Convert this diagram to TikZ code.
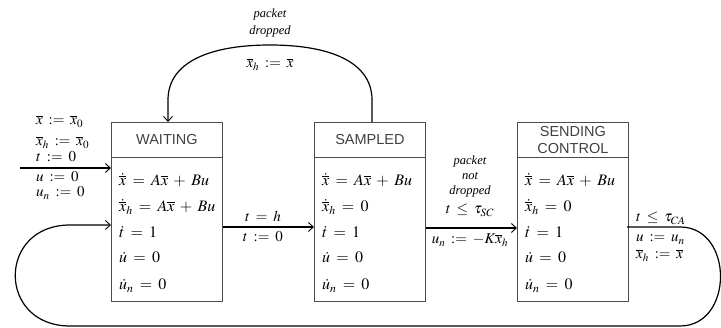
\documentclass[tikz,border=0pt]{standalone}
\usepackage{mathptmx}
\usepackage{fontspec}
\setmainfont{Liberation Serif}
\newfontfamily\titlefont{Liberation Sans}
\usetikzlibrary{arrows.meta}
\newcommand{\xb}{\overline{x}}
\newcommand{\xd}{\dot{\overline{x}}}
\newcommand{\spc}{\medmuskip=6mu\thickmuskip=7mu}
\begin{document}
\begin{tikzpicture}[x=1pt,y=-1pt,
  conn/.style={line width=1.2pt, black},
  arr/.style={conn, -{Straight Barb[length=5pt,width=9pt,line width=0.9pt]}},
  boxtitle/.style={draw=black!70, line width=0.8pt, minimum width=111pt, minimum height=35pt, inner sep=0pt,
    font=\titlefont\fontsize{14.5}{17}\selectfont, text=black!75, align=center, anchor=north west},
  boxbody/.style={draw=black!70, line width=0.8pt, minimum width=111pt, minimum height=144pt, inner sep=0pt, anchor=north west},
  eq/.style={anchor=base west, inner sep=0pt, font=\fontsize{16}{18}\selectfont\spc},
  lab/.style={anchor=base west, inner sep=0pt, font=\fontsize{15}{17}\selectfont\spc},
  clab/.style={anchor=base, inner sep=0pt, font=\fontsize{15}{17}\selectfont\spc},
  itl/.style={anchor=base, inner sep=0pt, font=\itshape\fontsize{12.5}{14}\selectfont}]
\useasboundingbox (0,0) rectangle (721,328);

% boxes
\node[boxtitle] (Wt) at (111,122) {WAITING};
\node[boxbody]  (Wb) at (111,157) {};
\node[boxtitle] (St) at (314,122) {SAMPLED};
\node[boxbody]  (Sb) at (314,157) {};
\node[boxtitle] (Ct) at (517,122) {SENDING\\CONTROL};
\node[boxbody]  (Cb) at (517,157) {};

% WAITING body
\node[eq] (w1) at (119,186) {$\xd = A\xb + Bu$};
\node[eq] (w2) at (119,212) {$\xd_h = A\xb + Bu$};
\node[eq] (w3) at (119,238) {$\dot t = 1$};
\node[eq] (w4) at (119,263) {$\dot u = 0$};
\node[eq] (w5) at (119,290) {$\dot u_n = 0$};
% SAMPLED body
\node[eq] (s1) at (322,186) {$\xd = A\xb + Bu$};
\node[eq] (s2) at (322,212) {$\xd_h = 0$};
\node[eq] (s3) at (322,238) {$\dot t = 1$};
\node[eq] (s4) at (322,263) {$\dot u = 0$};
\node[eq] (s5) at (322,290) {$\dot u_n = 0$};
% SENDING CONTROL body
\node[eq] (c1) at (525,186) {$\xd = A\xb + Bu$};
\node[eq] (c2) at (525,212) {$\xd_h = 0$};
\node[eq] (c3) at (525,238) {$\dot t = 1$};
\node[eq] (c4) at (525,263) {$\dot u = 0$};
\node[eq] (c5) at (525,290) {$\dot u_n = 0$};

% initial transition
\coordinate (i0) at (20,168);
\draw[arr] (i0) -- (i0 -| Wb.west);
\node[lab] (i1) at (36,125) {$\xb := \xb_0$};
\node[lab] (i2) at (36,146) {$\xb_h := \xb_0$};
\node[lab] (i3) at (36,162) {$t := 0$};
\node[lab] (i4) at (36,182) {$u := 0$};
\node[lab] (i5) at (36,197) {$u_n := 0$};

% WAITING -> SAMPLED
\coordinate (ws) at (230,227);
\draw[arr] (ws -| Wb.east) -- (ws -| Sb.west);
\node[clab] (ws1) at (263,222) {$t = h$};
\node[clab] (ws2) at (263,242) {$t := 0$};

% SAMPLED -> SENDING CONTROL
\coordinate (sc) at (430,228);
\draw[arr] (sc -| Sb.east) -- (sc -| Cb.west);
\node[itl] (sc1) at (470,165) {packet};
\node[itl] (sc2) at (470,180) {not};
\node[itl] (sc3) at (470,195) {dropped};
\node[clab] (sc4) at (470,214) {$t \le \tau_{SC}$};
\node[clab] (sc5) at (470,244) {$u_n := -K\xb_h$};

% SAMPLED -> WAITING (packet dropped)
\coordinate (p0) at (372,122);
\coordinate (p1) at (372,100);
\coordinate (p2) at (270,45);
\coordinate (p3) at (168,100);
\coordinate (p4) at (168,122);
\draw[arr] (p0) -- (p1) .. controls (372,62) and (330,45) .. (p2)
  .. controls (210,45) and (168,62) .. (p3) -- (p4);
\node[itl] (pd1) at (270,18) {packet};
\node[itl] (pd2) at (270,35) {dropped};
\node[clab] (pd3) at (270,68) {$\xb_h := \xb$};

% SENDING CONTROL -> WAITING (loop below)
\coordinate (r0) at (627,227);
\coordinate (r1) at (680,227);
\coordinate (r2) at (680,326);
\coordinate (l0) at (70,326);
\coordinate (l1) at (70,225);
\draw[arr] (r0) -- (r1) .. controls (734,227) and (734,326) .. (r2) -- (l0)
  .. controls (-3,326) and (-3,225) .. (l1) -- (l1 -| Wb.west);
\node[lab] (cw1) at (636,222) {$t \le \tau_{CA}$};
\node[lab] (cw2) at (636,242) {$u := u_n$};
\node[lab] (cw3) at (636,259) {$\xb_h := \xb$};
\end{tikzpicture}
\end{document}
